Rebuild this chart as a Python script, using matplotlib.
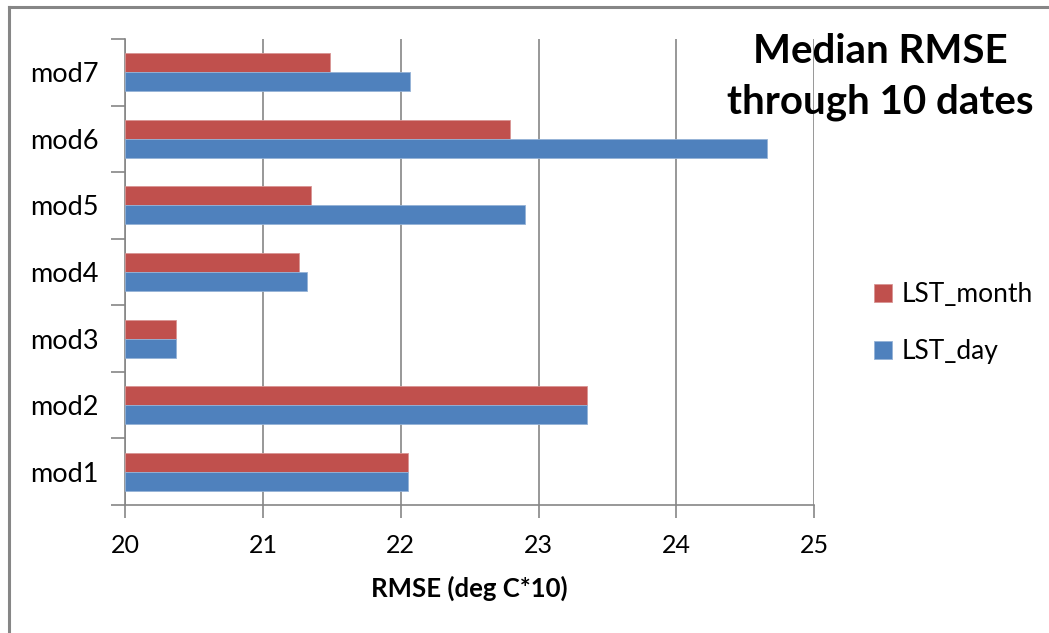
import matplotlib
matplotlib.use("Agg")
import matplotlib.pyplot as plt
import numpy as np
from matplotlib.lines import Line2D

# Median RMSE of each model, two LST inputs
models = ["mod1", "mod2", "mod3", "mod4", "mod5", "mod6", "mod7"]
lst_month = [22.05, 23.35, 20.37, 21.26, 21.35, 22.79, 21.49]
lst_day = [22.05, 23.35, 20.37, 21.32, 22.90, 24.66, 22.07]
x_ticks = [20, 21, 22, 23, 24, 25]

plt.rcParams["font.family"] = ["Lato", "DejaVu Sans"]

fig = plt.figure(figsize=(10.49, 6.33), dpi=100)
ax = fig.add_axes([0.1192, 0.2022, 0.657, 0.7362])

red = "#C0504D"
blue = "#4F81BD"
h = 0.285
y = np.arange(len(models))

ax.barh(y + h / 2, np.array(lst_month) - 20, height=h, left=20, color=red,
        edgecolor="#D99594", linewidth=0.6, label="LST_month", zorder=3)
ax.barh(y - h / 2, np.array(lst_day) - 20, height=h, left=20, color=blue,
        edgecolor="#95B3D7", linewidth=0.6, label="LST_day", zorder=3)

ax.set_xlim(20, 25)
ax.set_ylim(-0.5, len(models) - 0.5)
ax.set_xticks(x_ticks)
ax.set_xticklabels([str(t) for t in x_ticks], fontsize=18)
ax.tick_params(axis="x", length=9, color="#868686", width=1.2, pad=12)

# category boundaries carry the tick marks, centres carry the labels
ax.set_yticks(np.arange(len(models) + 1) - 0.5)
ax.set_yticklabels([])
ax.set_yticks(y, minor=True)
ax.set_yticklabels(models, minor=True, fontsize=19.5)
ax.tick_params(axis="y", which="major", length=10, color="#868686", width=1.2)
ax.tick_params(axis="y", which="minor", length=0, pad=19)

ax.grid(axis="x", color="#868686", linewidth=1.2, zorder=0)
for side in ["top", "right"]:
    ax.spines[side].set_visible(False)
ax.spines["left"].set_color("#868686")
ax.spines["bottom"].set_color("#868686")
ax.spines["left"].set_linewidth(1.2)
ax.spines["bottom"].set_linewidth(1.2)

ax.set_xlabel("RMSE (deg C*10)", fontsize=18.5, fontweight="bold", labelpad=13)

fig.text(0.839, 0.879, "Median RMSE\nthrough 10 dates", ha="center", va="center",
         fontsize=29, fontweight="bold", linespacing=1.45)

handles, labels = ax.get_legend_handles_labels()
ax.legend(handles, labels, loc="center left", bbox_to_anchor=(1.052, 0.39),
          frameon=False, fontsize=19, handlelength=0.7, handleheight=0.7,
          handletextpad=0.35, labelspacing=1.2)

# chart frame
fig.add_artist(Line2D([0.0086, 0.0086], [0.0, 0.989], color="#868686", linewidth=2.2))
fig.add_artist(Line2D([0.0086, 1.0], [0.989, 0.989], color="#868686", linewidth=2.2))

fig.savefig("out.png", dpi=100)
